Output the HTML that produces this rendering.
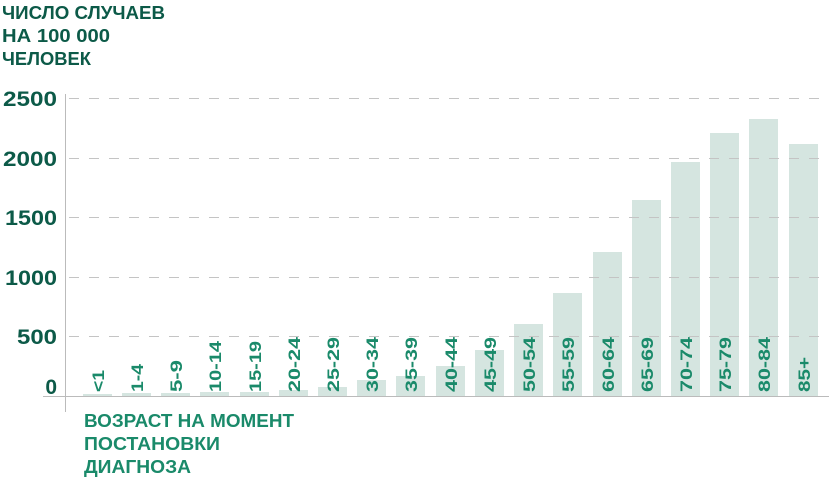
<!DOCTYPE html>
<html><head><meta charset="utf-8"><style>
html,body{margin:0;padding:0;background:#fff;}
svg{display:block;font-family:"Liberation Sans","DejaVu Sans",sans-serif;font-weight:bold;}
</style></head><body>
<svg width="829" height="480" viewBox="0 0 829 480" xmlns="http://www.w3.org/2000/svg">
<g fill="#0c5a48" font-size="18">
<text x="2" y="19" textLength="163" lengthAdjust="spacingAndGlyphs">ЧИСЛО СЛУЧАЕВ</text>
<text x="2" y="42" textLength="108" lengthAdjust="spacingAndGlyphs">НА 100 000</text>
<text x="2" y="65" textLength="89" lengthAdjust="spacingAndGlyphs">ЧЕЛОВЕК</text>
</g>
<g fill="#0c5a48" font-size="21" text-anchor="end" lengthAdjust="spacingAndGlyphs">
<text x="57" y="106" textLength="54" lengthAdjust="spacingAndGlyphs">2500</text>
<text x="57" y="166" textLength="54" lengthAdjust="spacingAndGlyphs">2000</text>
<text x="57" y="225" textLength="52" lengthAdjust="spacingAndGlyphs">1500</text>
<text x="57" y="285" textLength="52" lengthAdjust="spacingAndGlyphs">1000</text>
<text x="57" y="344" textLength="40" lengthAdjust="spacingAndGlyphs">500</text>
<text x="57" y="394">0</text>
</g>
<line x1="65.5" y1="94" x2="65.5" y2="412" stroke="#bbb" stroke-width="1"/>
<g fill="#d5e5e0">
<rect x="83" y="394" width="29" height="2"/>
<rect x="122" y="393" width="29" height="3"/>
<rect x="161" y="393" width="29" height="3"/>
<rect x="200" y="392" width="29" height="4"/>
<rect x="240" y="392" width="29" height="4"/>
<rect x="279" y="390" width="29" height="6"/>
<rect x="318" y="387" width="29" height="9"/>
<rect x="357" y="380" width="29" height="16"/>
<rect x="396" y="376" width="29" height="20"/>
<rect x="436" y="366" width="29" height="30"/>
<rect x="475" y="350" width="29" height="46"/>
<rect x="514" y="324" width="29" height="72"/>
<rect x="553" y="293" width="29" height="103"/>
<rect x="593" y="252" width="29" height="144"/>
<rect x="632" y="200" width="29" height="196"/>
<rect x="671" y="162" width="29" height="234"/>
<rect x="710" y="133" width="29" height="263"/>
<rect x="749" y="119" width="29" height="277"/>
<rect x="789" y="144" width="29" height="252"/>
</g>
<g stroke="#c4c4c4" stroke-width="1" stroke-dasharray="10,10">
<line x1="69" y1="98.5" x2="829" y2="98.5"/>
<line x1="69" y1="158.5" x2="829" y2="158.5"/>
<line x1="69" y1="217.5" x2="829" y2="217.5"/>
<line x1="69" y1="277.5" x2="829" y2="277.5"/>
<line x1="69" y1="336.5" x2="829" y2="336.5"/>
</g>
<line x1="43" y1="396.5" x2="829" y2="396.5" stroke="#bbb" stroke-width="1"/>
<g fill="#1a8a6a" font-size="17">
<text transform="translate(104,392) rotate(-90)" textLength="22" lengthAdjust="spacingAndGlyphs">&lt;1</text>
<text transform="translate(143,392) rotate(-90)" textLength="28" lengthAdjust="spacingAndGlyphs">1-4</text>
<text transform="translate(182,392) rotate(-90)" textLength="32" lengthAdjust="spacingAndGlyphs">5-9</text>
<text transform="translate(221,392) rotate(-90)" textLength="51" lengthAdjust="spacingAndGlyphs">10-14</text>
<text transform="translate(261,392) rotate(-90)" textLength="51" lengthAdjust="spacingAndGlyphs">15-19</text>
<text transform="translate(300,392) rotate(-90)" textLength="55" lengthAdjust="spacingAndGlyphs">20-24</text>
<text transform="translate(339,392) rotate(-90)" textLength="55" lengthAdjust="spacingAndGlyphs">25-29</text>
<text transform="translate(378,392) rotate(-90)" textLength="55" lengthAdjust="spacingAndGlyphs">30-34</text>
<text transform="translate(417,392) rotate(-90)" textLength="55" lengthAdjust="spacingAndGlyphs">35-39</text>
<text transform="translate(457,392) rotate(-90)" textLength="55" lengthAdjust="spacingAndGlyphs">40-44</text>
<text transform="translate(496,392) rotate(-90)" textLength="55" lengthAdjust="spacingAndGlyphs">45-49</text>
<text transform="translate(535,392) rotate(-90)" textLength="55" lengthAdjust="spacingAndGlyphs">50-54</text>
<text transform="translate(574,392) rotate(-90)" textLength="55" lengthAdjust="spacingAndGlyphs">55-59</text>
<text transform="translate(614,392) rotate(-90)" textLength="55" lengthAdjust="spacingAndGlyphs">60-64</text>
<text transform="translate(653,392) rotate(-90)" textLength="55" lengthAdjust="spacingAndGlyphs">65-69</text>
<text transform="translate(692,392) rotate(-90)" textLength="55" lengthAdjust="spacingAndGlyphs">70-74</text>
<text transform="translate(731,392) rotate(-90)" textLength="55" lengthAdjust="spacingAndGlyphs">75-79</text>
<text transform="translate(770,392) rotate(-90)" textLength="55" lengthAdjust="spacingAndGlyphs">80-84</text>
<text transform="translate(810,392) rotate(-90)" textLength="35" lengthAdjust="spacingAndGlyphs">85+</text>
</g>
<g fill="#1a8a6a" font-size="18">
<text x="84" y="427" textLength="210" lengthAdjust="spacingAndGlyphs">ВОЗРАСТ НА МОМЕНТ</text>
<text x="84" y="450" textLength="136" lengthAdjust="spacingAndGlyphs">ПОСТАНОВКИ</text>
<text x="84" y="473" textLength="107" lengthAdjust="spacingAndGlyphs">ДИАГНОЗА</text>
</g>
</svg>
</body></html>
